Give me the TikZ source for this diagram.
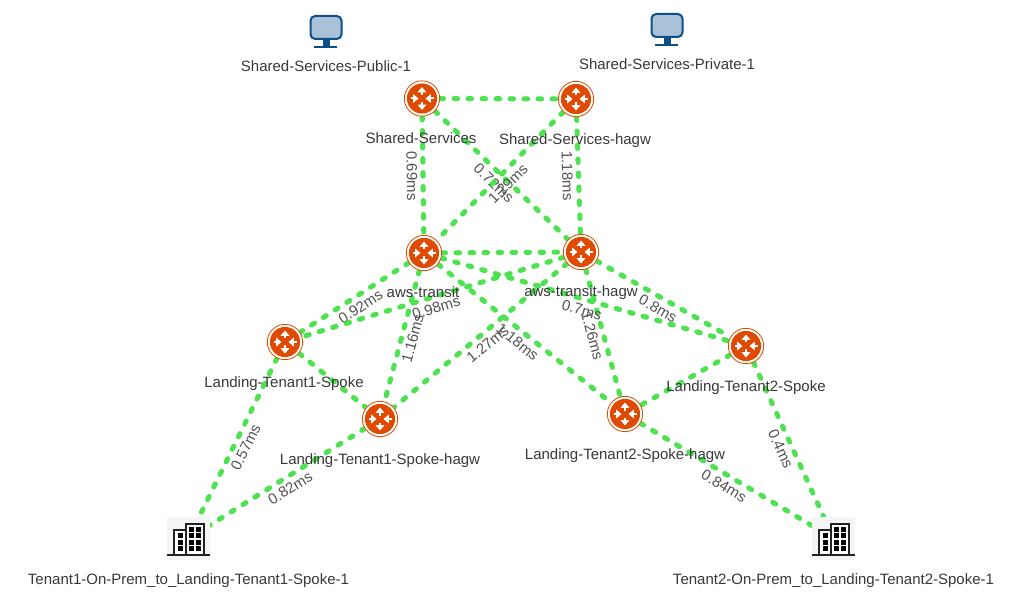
\documentclass[tikz,border=0pt]{standalone}
\usepackage{fontspec}
\setmainfont{Liberation Sans}
\usetikzlibrary{arrows.meta}
\pgfdeclarelayer{bg}
\pgfsetlayers{bg,main}
\definecolor{rorange}{HTML}{E04A00}
\definecolor{linkgreen}{HTML}{4DE24F}
\definecolor{monfill}{HTML}{A9C1D9}
\definecolor{monline}{HTML}{0E4F87}
\definecolor{bldbg}{HTML}{F5F5F5}
\definecolor{bldline}{HTML}{222222}
\tikzset{
  px/.style={x=0.75pt,y=-0.75pt},
  routernode/.style={circle,draw=rorange,line width=0.6pt,fill=white,minimum size=26.5pt,inner sep=0pt},
  monnode/.style={rectangle,minimum width=24pt,minimum height=25pt,inner sep=0pt},
  bldnode/.style={rectangle,minimum width=32pt,minimum height=32pt,inner sep=0pt},
  link/.style={draw=linkgreen,line width=3.8pt,line cap=round,dash pattern=on 2.6pt off 7.9pt},
  elbl/.style={sloped,below=0pt,inner sep=2.4pt,text=black!68,font=\fontsize{11.25pt}{13pt}\selectfont},
  nlbl/.style={inner sep=0pt,text height=8pt,text depth=2.4pt,text=black!78,font=\fontsize{11.25pt}{13pt}\selectfont},
  rarrow/.style={draw=white,line width=1.5pt,-{Triangle[length=4pt,width=6.4pt]}},
}
\newcommand{\routerat}[3]{%
  \node[routernode] (#1) at (#2,#3) {};
  \fill[rorange] (#1.center) circle[radius=11.3pt];
  \begin{scope}[shift={(#1.center)}]
    \draw[rarrow] (0,-3.5) -- (0,-11.5);
    \draw[rarrow] (0,3.5) -- (0,11.5);
    \draw[rarrow] (-11.5,0) -- (-3.5,0);
    \draw[rarrow] (11.5,0) -- (3.5,0);
  \end{scope}
}
\newcommand{\monitorat}[3]{%
  \node[monnode] (#1) at (#2,#3) {};
  \begin{scope}[shift={(#1.center)}]
    \draw[monline,fill=monfill,line width=1.5pt,rounded corners=3.5pt] (-15.5,-16) rectangle (15.5,7);
    \fill[monline] (-3.5,7) rectangle (3.5,14);
    \fill[monline] (-12,14) rectangle (11,16);
  \end{scope}
}
\newcommand{\buildingat}[3]{%
  \node[bldnode,fill=bldbg] (#1) at (#2,#3) {};
  \begin{scope}[shift={(#1.center)}]
    \draw[bldline,fill=white,line width=1.5pt] (-15,16) -- (-15,-9) -- (-3,-9) -- (-3,16);
    \draw[bldline,fill=white,line width=1.5pt] (-3,16) -- (-3,-15) -- (15,-15) -- (15,16);
    \draw[bldline,line width=1.5pt] (-21.5,16) -- (21.5,16);
    \foreach \wx/\wy in {-8.5/-3,-8.5/4,-8.5/10,3/-9,9.5/-9,3/-3,9.5/-3,3/4,9.5/4,3/10,9.5/10}
      \fill[black] (\wx-2.5,\wy-2.5) rectangle (\wx+2.5,\wy+2.5);
  \end{scope}
}
\begin{document}
\begin{tikzpicture}[px]
\useasboundingbox (0,0) rectangle (1012,605);
% icons
\monitorat{pub}{326}{32}
\monitorat{priv}{667}{30}
\routerat{ss}{422}{98.5}
\routerat{ssh}{576}{99}
\routerat{tr}{424}{253}
\routerat{trh}{581}{252}
\routerat{lo}{285}{342}
\routerat{loh}{380}{419}
\routerat{lt}{746}{346}
\routerat{lth}{625}{414}
\buildingat{bo}{188.5}{538.5}
\buildingat{bt}{833.5}{538.5}
% connectors
\begin{pgfonlayer}{bg}
\draw[link] (ss) -- (ssh);
\draw[link] (ss) -- node[elbl]{0.69ms} (tr);
\draw[link] (ss) -- node[elbl]{0.72ms} (trh);
\draw[link] (ssh) -- node[elbl]{1.29ms} (tr);
\draw[link] (ssh) -- node[elbl]{1.18ms} (trh);
\draw[link] (tr) -- (trh);
\draw[link] (tr) -- node[elbl]{0.92ms} (lo);
\draw[link] (trh) -- node[elbl]{0.98ms} (lo);
\draw[link] (tr) -- node[elbl]{1.16ms} (loh);
\draw[link] (trh) -- node[elbl]{1.27ms} (loh);
\draw[link] (tr) -- node[elbl]{1.18ms} (lth);
\draw[link] (trh) -- node[elbl]{1.26ms} (lth);
\draw[link] (tr) -- node[elbl]{0.7ms} (lt);
\draw[link] (trh) -- node[elbl]{0.8ms} (lt);
\draw[link] (lo) -- (loh);
\draw[link] (lt) -- (lth);
\draw[link] (lo) -- node[elbl,pos=.53]{0.57ms} (bo);
\draw[link] (loh) -- node[elbl,pos=.52]{0.82ms} (bo);
\draw[link] (lt) -- node[elbl,pos=.53]{0.4ms} (bt);
\draw[link] (lth) -- node[elbl,pos=.52]{0.84ms} (bt);
\end{pgfonlayer}
% node labels
\node[nlbl] (lpub) at (326,68) {Shared-Services-Public-1};
\node[nlbl] (lpriv) at (667,66) {Shared-Services-Private-1};
\node[nlbl] (lss) at (421,140) {Shared-Services};
\node[nlbl] (lssh) at (575,141) {Shared-Services-hagw};
\node[nlbl] (ltr) at (423,294) {aws-transit};
\node[nlbl] (ltrh) at (581,293) {aws-transit-hagw};
\node[nlbl] (llo) at (284,384) {Landing-Tenant1-Spoke};
\node[nlbl] (lloh) at (380,461) {Landing-Tenant1-Spoke-hagw};
\node[nlbl] (llt) at (746,388) {Landing-Tenant2-Spoke};
\node[nlbl] (llth) at (625,456) {Landing-Tenant2-Spoke-hagw};
\node[nlbl] (lbo) at (188.5,581) {Tenant1-On-Prem\_to\_Landing-Tenant1-Spoke-1};
\node[nlbl] (lbt) at (833.5,581) {Tenant2-On-Prem\_to\_Landing-Tenant2-Spoke-1};
\end{tikzpicture}
\end{document}
